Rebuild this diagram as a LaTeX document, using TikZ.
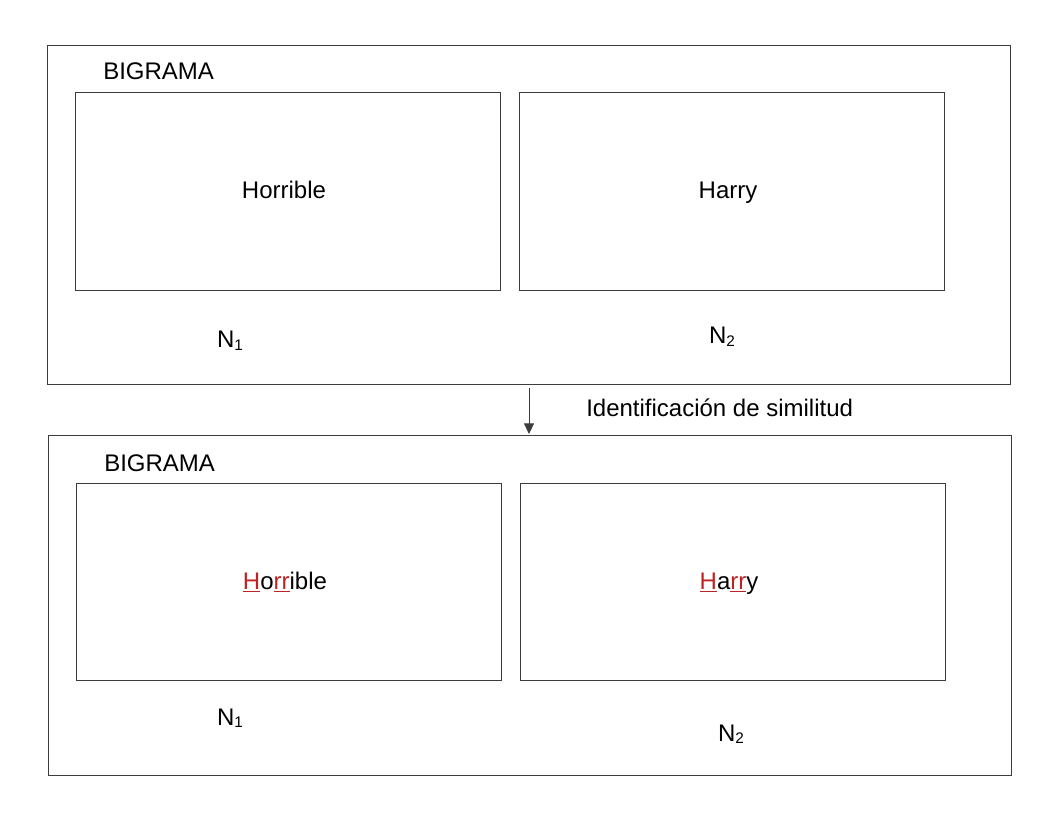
\documentclass[tikz,border=0pt]{standalone}
\usepackage{fontspec}
\setmainfont{Liberation Sans}
\usetikzlibrary{fit,arrows.meta}
\definecolor{hl}{RGB}{190,35,35}
\definecolor{ln}{RGB}{60,60,60}
\newcommand{\ru}[1]{{\color{hl}\underline{#1}}}
\newcommand{\sbs}[1]{\raisebox{-0.1em}{\fontsize{11.5}{12}\selectfont #1}}
\begin{document}
\begin{tikzpicture}[x=0.75pt,y=-0.75pt,
  box/.style={draw=ln,line width=0.7pt,inner sep=0pt},
  txt/.style={inner sep=0pt,anchor=base,font=\fontsize{18}{20}\selectfont,text=black},
  conn/.style={draw=ln,line width=0.7pt,-{Triangle[length=8pt,width=7.5pt]}}]
\useasboundingbox (0,0) rectangle (1056,816);
% top
\coordinate (o1a) at (47,45); \coordinate (o1b) at (1010,384);
\node[box,fit=(o1a)(o1b)] (outer1) {};
\coordinate (i1a) at (75,92); \coordinate (i1b) at (500,290);
\node[box,fit=(i1a)(i1b)] (in1L) {};
\coordinate (i2a) at (519,92); \coordinate (i2b) at (944,290);
\node[box,fit=(i2a)(i2b)] (in1R) {};
\node[txt,anchor=base west] (big1) at (103,80) {BIGRAMA};
\node[txt] (w1) at (284,199) {Horrible};
\node[txt] (w2) at (728,199) {Harry};
\node[txt] (n11) at (230,348) {N\sbs{1}};
\node[txt] (n12) at (722,344) {N\sbs{2}};
% bottom
\coordinate (o2a) at (48,435); \coordinate (o2b) at (1011,775);
\node[box,fit=(o2a)(o2b)] (outer2) {};
\coordinate (j1a) at (76,483); \coordinate (j1b) at (501,680);
\node[box,fit=(j1a)(j1b)] (in2L) {};
\coordinate (j2a) at (520,483); \coordinate (j2b) at (945,680);
\node[box,fit=(j2a)(j2b)] (in2R) {};
\node[txt,anchor=base west] (big2) at (104,471) {BIGRAMA};
\node[txt] (w3) at (285,589) {\ru{H}o\ru{rr}ible};
\node[txt] (w4) at (729,589) {\ru{H}a\ru{rr}y};
\node[txt] (n21) at (230,725) {N\sbs{1}};
\node[txt] (n22) at (731,741) {N\sbs{2}};
% arrow
\coordinate (as) at (529,388);
\coordinate (ae) at (529,434);
\draw[conn] (as) -- (ae);
\node[txt,anchor=base west] (lab) at (586,416) {Identificación de similitud};
\end{tikzpicture}
\end{document}
